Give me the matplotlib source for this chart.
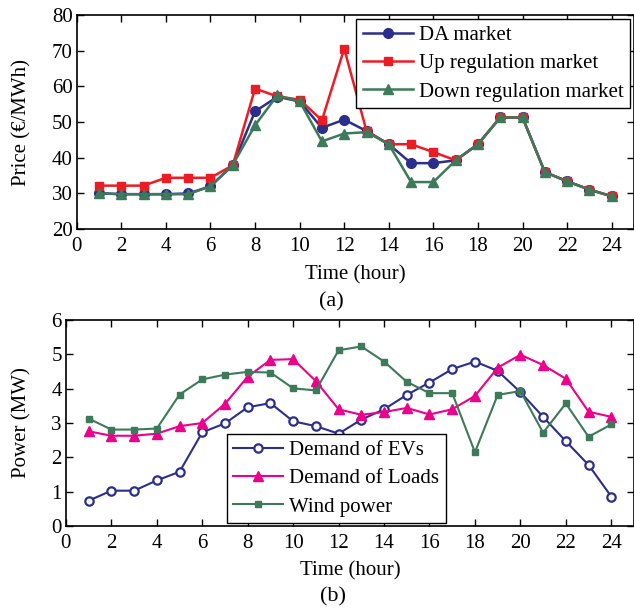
import matplotlib
matplotlib.use('Agg')
import matplotlib.pyplot as plt

plt.rcParams['font.family'] = ['Liberation Serif', 'DejaVu Serif']
plt.rcParams['font.size'] = 15
plt.rcParams['mathtext.fontset'] = 'stix'

hours = list(range(1, 25))

# (a) prices, EUR/MWh
da_price = [30.1, 29.8, 29.8, 29.8, 30.0, 32.0, 37.9, 53.0, 57.1, 55.8, 48.4, 50.7,
            47.5, 43.8, 38.5, 38.5, 39.3, 43.8, 51.3, 51.3, 36.0, 33.4, 31.1, 29.2]
up_price = [32.2, 32.2, 32.2, 34.4, 34.4, 34.4, 37.9, 59.4, 57.2, 56.3, 50.5, 70.6,
            47.5, 43.8, 43.8, 41.6, 39.3, 43.8, 51.3, 51.3, 36.0, 33.4, 31.1, 29.2]
down_price = [30.0, 29.8, 29.8, 29.8, 29.8, 32.0, 38.0, 49.1, 57.5, 55.8, 44.6, 46.8,
              47.2, 43.8, 33.2, 33.2, 39.3, 43.8, 51.3, 51.3, 36.0, 33.4, 31.1, 29.2]

# (b) power, MW
ev_demand = [0.74, 1.03, 1.03, 1.33, 1.58, 2.73, 2.99, 3.46, 3.58, 3.05, 2.91, 2.69,
             3.10, 3.40, 3.82, 4.18, 4.57, 4.79, 4.52, 3.90, 3.18, 2.47, 1.78, 0.86]
load_demand = [2.76, 2.63, 2.63, 2.69, 2.91, 3.00, 3.56, 4.35, 4.84, 4.86, 4.22, 3.40,
               3.24, 3.32, 3.44, 3.25, 3.40, 3.79, 4.61, 4.99, 4.69, 4.29, 3.33, 3.18]
wind = [3.13, 2.81, 2.81, 2.84, 3.83, 4.27, 4.41, 4.49, 4.47, 4.01, 3.95, 5.12,
        5.23, 4.79, 4.20, 3.87, 3.87, 2.15, 3.82, 3.93, 2.72, 3.57, 2.60, 2.96]

navy = '#2b2e8c'
red = '#ed1c24'
green = '#3c7a5a'
magenta = '#ec008c'

fig = plt.figure(figsize=(6.34, 6.16), dpi=100)
ax1 = fig.add_axes([0.121, 0.628, 0.879, 0.3475])
ax2 = fig.add_axes([0.104, 0.146, 0.896, 0.3345])

ax1.plot(hours, da_price, '-o', color=navy, lw=1.8, ms=7, label='DA market')
ax1.plot(hours, up_price, '-s', color=red, lw=1.8, ms=5.5, label='Up regulation market')
ax1.plot(hours, down_price, '-^', color=green, lw=1.8, ms=7, label='Down regulation market')
ax1.set_ylim(20, 80)
ax1.set_yticks(range(20, 81, 10))
ax1.set_ylabel('Price (€/MWh)')
ax1.yaxis.set_label_coords(-0.081, 0.5)
ax1.legend(loc='upper right', bbox_to_anchor=(1.0, 1.0), borderaxespad=0.2,
           fancybox=False, edgecolor='black', framealpha=1, handlelength=2.4,
           labelspacing=0.42, borderpad=0.3, handletextpad=0.3)

ax2.plot(hours, ev_demand, '-o', color=navy, lw=1.5, ms=6, mfc='white', mew=1.6,
         label='Demand of EVs')
ax2.plot(hours, load_demand, '-^', color=magenta, lw=1.5, ms=6.5, label='Demand of Loads')
ax2.plot(hours, wind, '-s', color=green, lw=1.5, ms=5, label='Wind power')
ax2.set_ylim(0, 6)
ax2.set_yticks(range(0, 7))
ax2.set_ylabel('Power (MW)')
ax2.yaxis.set_label_coords(-0.060, 0.5)
ax2.legend(loc='lower left', bbox_to_anchor=(0.278, 0.0), borderaxespad=0.15,
           fancybox=False, edgecolor='black', framealpha=1, handlelength=2.4,
           labelspacing=0.42, borderpad=0.3, handletextpad=0.3)

for ax in (ax1, ax2):
    ax.set_xlim(0, 25)
    ax.set_xticks(range(0, 25, 2))
    ax.set_xlabel('Time (hour)', labelpad=6)
    ax.tick_params(direction='in', top=True, right=True, length=5, width=1, pad=3)
    ax.tick_params(axis='x', pad=6)
    for sp in ax.spines.values():
        sp.set_linewidth(1.2)

fig.text(331 / 634, 1 - 302 / 616, '(a)', ha='center', va='center', fontsize=16)
fig.text(333 / 634, 1 - 597 / 616, '(b)', ha='center', va='center', fontsize=16)

fig.savefig('out.png', dpi=100)
